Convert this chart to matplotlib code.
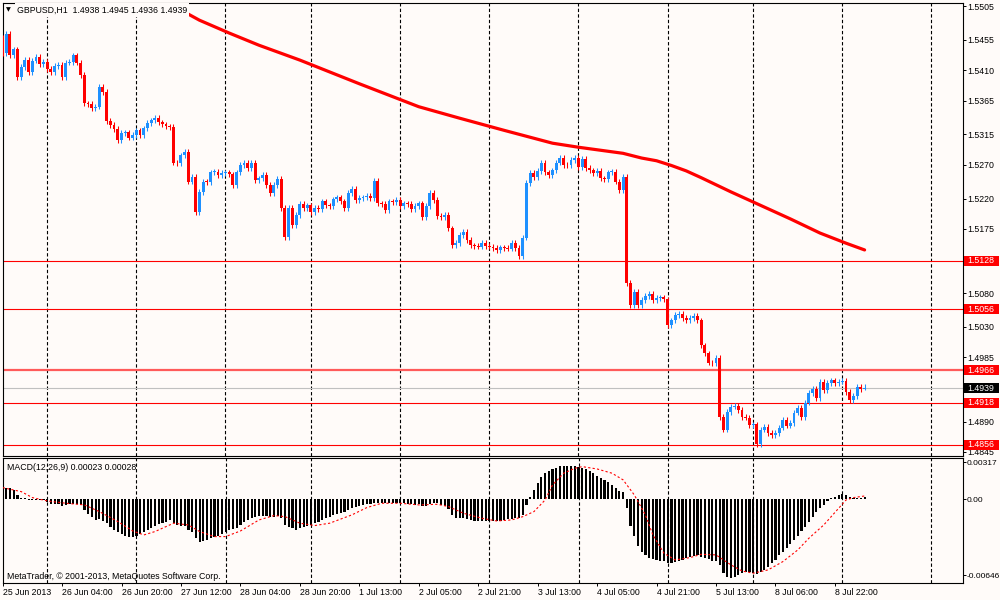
import matplotlib.pyplot as plt
from matplotlib.patches import Rectangle
import numpy as np

plt.rcParams['font.family'] = ['Liberation Sans', 'DejaVu Sans']

# ---- data ----
title_text = "GBPUSD,H1  1.4938 1.4945 1.4936 1.4939"
macd_text = "MACD(12,26,9) 0.00023 0.00028"
copyright_text = "MetaTrader, \u00a9 2001-2013, MetaQuotes Software Corp."

first_open = 1.5458
closes = [
    1.5435, 1.5464, 1.5432, 1.5441, 1.5400, 1.5415, 1.5425, 1.5407, 1.5424, 1.5430,
    1.5419, 1.5422, 1.5412, 1.5407, 1.5416, 1.5418, 1.5400, 1.5421, 1.5422, 1.5432,
    1.5421, 1.5403, 1.5361, 1.5360, 1.5354, 1.5356, 1.5385, 1.5378, 1.5335, 1.5329,
    1.5323, 1.5307, 1.5317, 1.5318, 1.5310, 1.5314, 1.5321, 1.5314, 1.5324, 1.5332,
    1.5336, 1.5339, 1.5333, 1.5330, 1.5327, 1.5326, 1.5273, 1.5272, 1.5284, 1.5289,
    1.5245, 1.5252, 1.5200, 1.5230, 1.5245, 1.5244, 1.5259, 1.5260, 1.5255, 1.5258,
    1.5259, 1.5256, 1.5240, 1.5259, 1.5270, 1.5273, 1.5265, 1.5273, 1.5247, 1.5250,
    1.5255, 1.5240, 1.5228, 1.5240, 1.5249, 1.5206, 1.5163, 1.5206, 1.5181, 1.5196,
    1.5212, 1.5206, 1.5210, 1.5200, 1.5206, 1.5204, 1.5216, 1.5210, 1.5209, 1.5219,
    1.5222, 1.5216, 1.5206, 1.5228, 1.5234, 1.5218, 1.5221, 1.5222, 1.5224, 1.5221,
    1.5246, 1.5213, 1.5212, 1.5203, 1.5216, 1.5215, 1.5218, 1.5209, 1.5213, 1.5212,
    1.5204, 1.5209, 1.5213, 1.5193, 1.5209, 1.5228, 1.5218, 1.5194, 1.5193, 1.5196,
    1.5176, 1.5151, 1.5154, 1.5166, 1.5171, 1.5159, 1.5151, 1.5150, 1.5149, 1.5154,
    1.5150, 1.5149, 1.5147, 1.5144, 1.5148, 1.5147, 1.5146, 1.5154, 1.5147, 1.5135,
    1.5162, 1.5243, 1.5258, 1.5252, 1.5261, 1.5273, 1.5259, 1.5255, 1.5262, 1.5273,
    1.5280, 1.5270, 1.5269, 1.5277, 1.5280, 1.5267, 1.5279, 1.5265, 1.5262, 1.5258,
    1.5261, 1.5250, 1.5249, 1.5259, 1.5260, 1.5245, 1.5233, 1.5252, 1.5095, 1.5062,
    1.5082, 1.5062, 1.5070, 1.5076, 1.5079, 1.5070, 1.5073, 1.5074, 1.5071, 1.5033,
    1.5040, 1.5048, 1.5049, 1.5043, 1.5040, 1.5043, 1.5046, 1.5040, 1.5003, 1.4991,
    1.4977, 1.4976, 1.4984, 1.4897, 1.4878, 1.4904, 1.4912, 1.4913, 1.4907, 1.4897,
    1.4896, 1.4885, 1.4886, 1.4857, 1.4878, 1.4882, 1.4873, 1.4870, 1.4873, 1.4881,
    1.4893, 1.4884, 1.4888, 1.4903, 1.4910, 1.4897, 1.4918, 1.4932, 1.4938, 1.4925,
    1.4949, 1.4937, 1.4947, 1.4951, 1.4947, 1.4949, 1.4950, 1.4934, 1.4922, 1.4928,
    1.4941, 1.4938, 1.4939,
]
last_high, last_low = 1.4945, 1.4936

# moving average (red thick line), read at a few bars
ma_bars = [40, 42, 49, 53, 61, 69, 80, 96, 112, 123, 135, 148, 155, 167, 172,
           176, 180, 184, 188, 196, 204, 212, 220, 227, 232]
ma_vals = [1.5513, 1.5509, 1.5496, 1.5484, 1.5465, 1.5447, 1.5425, 1.5390, 1.5356,
           1.5339, 1.5321, 1.5302, 1.5296, 1.5287, 1.5280, 1.5276, 1.5269, 1.5261,
           1.5251, 1.5230, 1.5210, 1.5190, 1.5169, 1.5154, 1.5144]

# MACD main line (histogram), in 1e-5
macd_e5 = [
    108, 99, 94, 80, 37, 14, 9, -6, -9, -9,
    -6, -9, -26, -40, -40, -43, -57, -48, -43, -40,
    -43, -48, -91, -128, -153, -176, -168, -182, -204, -233,
    -261, -281, -298, -310, -318, -318, -312, -298, -281, -261,
    -241, -224, -213, -204, -190, -176, -204, -219, -224, -224,
    -261, -281, -332, -366, -355, -346, -332, -318, -310, -298,
    -281, -261, -253, -241, -219, -196, -176, -156, -148, -142,
    -139, -142, -151, -148, -139, -162, -219, -233, -247, -261,
    -247, -233, -224, -219, -204, -190, -176, -162, -151, -133,
    -125, -119, -111, -91, -71, -62, -54, -48, -43, -40,
    -28, -28, -28, -34, -34, -31, -28, -28, -34, -40,
    -43, -48, -43, -54, -57, -43, -34, -34, -48, -54,
    -82, -133, -156, -162, -162, -168, -176, -185, -185, -185,
    -185, -185, -185, -185, -185, -176, -170, -168, -156, -156,
    -133, -48, 23, 80, 136, 193, 222, 241, 258, 270,
    287, 287, 287, 287, 284, 278, 270, 258, 241, 222,
    202, 179, 165, 145, 122, 99, 71, 65, -77, -224,
    -310, -395, -446, -474, -497, -508, -517, -525, -525, -545,
    -545, -537, -525, -517, -503, -488, -480, -474, -488, -503,
    -508, -525, -525, -559, -630, -659, -667, -659, -645, -630,
    -622, -622, -630, -639, -622, -602, -574, -545, -517, -474,
    -446, -412, -383, -346, -310, -270, -233, -190, -148, -111,
    -77, -48, -14, 9, 23, 37, 43, 37, 23, 14,
    14, 14, 23,
]

# signal line (red dotted), in 1e-5, read at a few bars
signal_bars = [0, 5, 8, 12, 17, 22, 26, 31, 35, 38, 41, 46, 50, 53, 57, 60, 64, 69, 73,
               76, 80, 84, 88, 94, 98, 102, 107, 112, 117, 120, 124, 129, 133, 137, 140,
               143, 146, 148, 151, 154, 156, 160, 164, 167, 170, 173, 175, 178, 181, 185,
               188, 192, 196, 199, 202, 206, 210, 214, 217, 221, 225, 227, 229, 232]
signal_e5 = [99, 65, 14, -14, -34, -48, -105, -190, -270, -304, -275, -204, -219, -275,
             -318, -318, -270, -176, -139, -148, -204, -224, -204, -133, -71, -34, -34,
             -48, -43, -62, -119, -162, -185, -176, -148, -105, -6, 122, 222, 264, 278,
             258, 222, 165, 37, -133, -304, -460, -517, -497, -469, -474, -559, -611,
             -630, -602, -531, -432, -332, -219, -77, -6, 14, 28]

red_levels = [1.5128, 1.5056, 1.4966, 1.4918, 1.4856]
bid_level = 1.4939

price_ticks = [1.5505, 1.5455, 1.5410, 1.5365, 1.5315, 1.5270, 1.5220, 1.5175,
               1.5080, 1.5030, 1.4985, 1.4890, 1.4845]
macd_ticks = [0.00317, 0.0, -0.00646]
macd_tick_labels = ["0.00317", "0.00", "-0.00646"]

date_bars = [0, 16, 32, 48, 64, 80, 96, 112, 128, 144, 160, 176, 192, 208, 224]
date_labels = ["25 Jun 2013", "26 Jun 04:00", "26 Jun 20:00", "27 Jun 12:00",
               "28 Jun 04:00", "28 Jun 20:00", "1 Jul 13:00", "2 Jul 05:00",
               "2 Jul 21:00", "3 Jul 13:00", "4 Jul 05:00", "4 Jul 21:00",
               "5 Jul 13:00", "8 Jul 06:00", "8 Jul 22:00"]
day_lines = [12, 36, 60, 83, 107, 131, 155, 179, 202, 226, 250]

# ---- styling ----
BG = '#fffbf9'
BULL = '#1e90ff'
BEAR = '#ff0000'
FS = 6.3
W, H = 1000, 600

closes = np.array(closes)
opens = np.concatenate([[first_open], closes[:-1]])
x = np.arange(len(closes))
wick = 0.0004
highs = np.maximum(opens, closes) + wick
lows = np.minimum(opens, closes) - wick
highs[-1], lows[-1] = last_high, last_low

fig = plt.figure(figsize=(10, 6), dpi=100, facecolor=BG)
ax = fig.add_axes([2.7 / W, 1 - 455.7 / H, 960 / W, 453 / H], facecolor=BG)
ax2 = fig.add_axes([2.7 / W, 1 - 583.3 / H, 960 / W, 125 / H], facecolor=BG)

xlim = (0.05, 258.4)

# day separators
for a in (ax, ax2):
    for b in day_lines:
        a.axvline(b, color='black', lw=0.8, ls=(0, (3, 2)), zorder=1)

# horizontal levels
for lv in red_levels:
    if lv == 1.4966:
        ax.axhline(lv, color='#ff5a5a', lw=1.6, zorder=2)
    else:
        ax.axhline(lv, color='red', lw=0.8, zorder=2)
ax.axhline(bid_level, color='#c0c0c0', lw=0.8, zorder=2)

# candles
colors = [BULL if c >= o else BEAR for o, c in zip(opens, closes)]
ax.vlines(x, lows, highs, colors=colors, lw=0.75, zorder=3)
body = np.maximum(np.abs(closes - opens), 0.00013)
ax.bar(x, body, bottom=np.minimum(opens, closes), width=0.78, color=colors,
       linewidth=0, zorder=4)

# moving average
ax.plot(ma_bars, ma_vals, color='red', lw=2.3, solid_capstyle='round',
        solid_joinstyle='round', zorder=5)

ax.set_xlim(*xlim)
ax.set_ylim(1.48395, 1.55099)
ax.yaxis.tick_right()
ax.set_yticks(price_ticks)
ax.set_yticklabels([f"{t:.4f}" for t in price_ticks])
ax.set_xticks([])
ax.tick_params(axis='y', length=2.2, width=0.7, pad=1.2, labelsize=FS, colors='black')

# MACD panel
macd = np.array(macd_e5) * 1e-5
signal = np.array(signal_e5) * 1e-5
ax2.bar(x, macd, width=0.58, color='black', linewidth=0, zorder=3)
ax2.plot(signal_bars, signal, color='red', lw=0.8, ls=(0, (2, 2)), zorder=4)
ax2.set_xlim(*xlim)
ax2.set_ylim(-0.00716, 0.00349)
ax2.yaxis.tick_right()
ax2.set_yticks(macd_ticks)
ax2.set_yticklabels(macd_tick_labels)
ax2.set_xticks(date_bars)
ax2.set_xticklabels(date_labels, ha='left')
ax2.tick_params(axis='y', length=2.2, width=0.7, pad=0.6, labelsize=FS - 0.3)
ax2.tick_params(axis='x', length=2.2, width=0.7, pad=1.5, labelsize=FS)

for a in (ax, ax2):
    for s in a.spines.values():
        s.set_color('black')
        s.set_linewidth(0.8)

# price level boxes on the right axis
for lv in red_levels + [bid_level]:
    yd = ax.transData.transform((0, lv))[1]
    fc = 'black' if lv == bid_level else 'red'
    fig.add_artist(Rectangle((964 / W, (yd - 5) / H), 35 / W, 10 / H,
                             transform=fig.transFigure, facecolor=fc, edgecolor='none'))
    fig.text(967 / W, yd / H, f"{lv:.4f}", color='white', fontsize=FS, va='center')

# texts
fig.text(5.5 / W, 1 - 10 / H, "\u25bc", fontsize=4.5, family='DejaVu Sans', va='center')
fig.text(17 / W, 1 - 10 / H, title_text, fontsize=FS, va='center', zorder=10,
         bbox=dict(boxstyle='square,pad=0.25', facecolor=BG, edgecolor='none'))
fig.text(7 / W, 1 - 467 / H, macd_text, fontsize=FS, va='center')
fig.text(7 / W, 1 - 576.5 / H, copyright_text, fontsize=FS, va='center')

fig.savefig("out.png", dpi=100, facecolor=BG)
